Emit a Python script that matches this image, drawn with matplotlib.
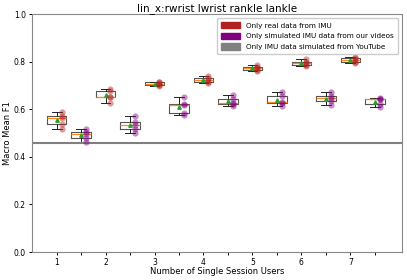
import matplotlib
matplotlib.use("Agg")
import matplotlib.pyplot as plt
import matplotlib.patches as mpatches

# macro F1 per fold, one list per number of users
users = ["1", "2", "3", "4", "5", "6", "7"]
real = [
    [0.515, 0.537, 0.564, 0.570, 0.588],
    [0.625, 0.652, 0.652, 0.678, 0.685],
    [0.697, 0.702, 0.706, 0.714, 0.716],
    [0.711, 0.714, 0.723, 0.731, 0.739],
    [0.760, 0.765, 0.772, 0.779, 0.785],
    [0.780, 0.784, 0.795, 0.800, 0.810],
    [0.794, 0.797, 0.808, 0.816, 0.820],
]
sim_ours = [
    [0.463, 0.480, 0.496, 0.503, 0.517],
    [0.499, 0.518, 0.534, 0.548, 0.570],
    [0.576, 0.583, 0.618, 0.623, 0.650],
    [0.615, 0.620, 0.625, 0.643, 0.660],
    [0.613, 0.626, 0.632, 0.655, 0.674],
    [0.616, 0.633, 0.647, 0.654, 0.671],
    [0.608, 0.620, 0.641, 0.641, 0.648],
]
youtube = 0.457

c_real = "#b22222"
c_sim = "#800080"
c_yt = "#808080"

fig = plt.figure(figsize=(4.07, 2.80), dpi=100)
ax = fig.add_axes([0.079, 0.10, 0.908, 0.85])

data = []
cols = []
for r, s in zip(real, sim_ours):
    data += [r, s]
    cols += [c_real, c_sim]
pos = list(range(1, len(data) + 1))

ax.boxplot(data, positions=pos, widths=0.8, showmeans=True, showfliers=False,
           boxprops=dict(color="#555555", lw=0.8),
           whiskerprops=dict(color="#222222", lw=0.7),
           capprops=dict(color="#222222", lw=0.7),
           medianprops=dict(color="#ff8c1a", lw=0.9),
           meanprops=dict(marker="^", markerfacecolor="#2ca02c", markeredgecolor="#2ca02c", markersize=2.5))

for p, d, c in zip(pos, data, cols):
    ax.scatter([p + 0.2] * len(d), d, color=c, alpha=0.45, s=20, lw=0, zorder=3)

ax.axhline(youtube, color=c_yt, lw=1.5)

ax.set_xlim(0.0, 15.1)
ax.set_ylim(0, 1.0)
ax.set_yticks([0, 0.2, 0.4, 0.6, 0.8, 1.0])
ax.set_xticks(pos)
labels = []
for u in users:
    labels += [u, ""]
ax.set_xticklabels(labels)
ax.tick_params(labelsize=5.5, length=2.5, width=0.7, pad=2)
for sp in ax.spines.values():
    sp.set_color("#888888")

ax.set_title("lin_x:rwrist lwrist rankle lankle", fontsize=7.5, pad=2)
ax.set_xlabel("Number of Single Session Users", fontsize=6, labelpad=0)
ax.set_ylabel("Macro Mean F1", fontsize=6, labelpad=1)

handles = [mpatches.Patch(color=c_real, label="Only real data from IMU"),
           mpatches.Patch(color=c_sim, label="Only simulated IMU data from our videos"),
           mpatches.Patch(color=c_yt, label="Only IMU data simulated from YouTube")]
ax.legend(handles=handles, loc="upper right", fontsize=5.2, handlelength=2.6,
          handleheight=1.0, borderpad=0.6, labelspacing=0.55, framealpha=1)

fig.savefig("out.png", dpi=100)
